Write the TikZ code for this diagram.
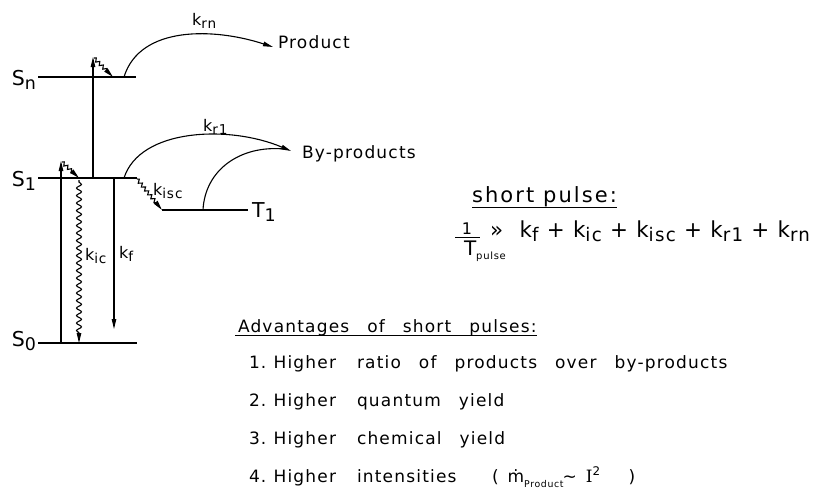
\documentclass[tikz,border=0pt]{standalone}
\usepackage{fontspec}
\setmainfont[LetterSpace=7]{DejaVu Sans}
\newfontfamily\serfam{DejaVu Serif}
\usetikzlibrary{arrows.meta,decorations.pathmorphing}
\newcommand\lo[1]{\raisebox{-0.22em}{\scalebox{0.85}{#1}}}
\newcommand\kk[1]{k\lo{#1}}
\newcommand\widesp{\spaceskip=18pt\relax}
\begin{document}
\begin{tikzpicture}[x=1pt,y=-1pt,
  every node/.style={inner sep=0pt,outer sep=0pt},
  lev/.style={line width=2.3pt},
  ln/.style={line width=1.1pt},
  tip/.style={-{Triangle[length=10pt,width=4.5pt]}},
  wig/.style={decorate,decoration={snake,amplitude=2.5pt,segment length=7.5pt,pre length=2pt,post length=10pt}},
  swig/.style={decorate,decoration={snake,amplitude=1.7pt,segment length=5pt,post length=7pt}},
  txt/.style={font=\fontsize{17}{20}\selectfont,execute at begin node=\widesp},
  big/.style={font=\fontsize{20.5}{24}\selectfont},
  klab/.style={font=\fontsize{16}{19}\selectfont}]
\useasboundingbox (0,0) rectangle (817,490);
% energy levels
\coordinate (SnA) at (38,77);  \coordinate (SnB) at (136,77);
\coordinate (S1A) at (38,178); \coordinate (S1B) at (137,178);
\coordinate (S0A) at (38,343); \coordinate (S0B) at (137,343);
\coordinate (T1A) at (162,210); \coordinate (T1B) at (248,210);
\draw[lev] (SnA) -- (SnB);
\draw[lev] (S1A) -- (S1B);
\draw[lev] (S0A) -- (S0B);
\draw[lev] (T1A) -- (T1B);
\node[big,anchor=base east] (Sn) at (36,85) {S\lo{n}};
\node[big,anchor=base east] (S1) at (36,186) {S\lo{1}};
\node[big,anchor=base east] (S0) at (36,346) {S\lo{0}};
\node[big,anchor=base west] (T1) at (252,217) {T\lo{1}};
% excitations
\coordinate (exAa) at (61,343); \coordinate (exAb) at (61,161);
\draw[ln,tip] (exAa) -- (exAb);
\coordinate (exBa) at (93,178); \coordinate (exBb) at (93,57);
\draw[ln,tip] (exBa) -- (exBb);
% fluorescence
\coordinate (fa) at (114,179); \coordinate (fb) at (114,329);
\draw[ln,tip] (fa) -- (fb);
% internal conversion
\coordinate (ica) at (79,180); \coordinate (icb) at (79,343);
\draw[ln,tip,wig] (ica) -- (icb);
% vibrational relaxations
\coordinate (rna) at (94,58); \coordinate (rnb) at (113,77);
\draw[ln,tip,swig] (rna) -- (rnb);
\coordinate (rsa) at (62,162); \coordinate (rsb) at (79,178);
\draw[ln,tip,swig] (rsa) -- (rsb);
% isc
\coordinate (isa) at (137,179); \coordinate (isb) at (162,210);
\draw[ln,tip,swig] (isa) -- (isb);
% products
\node[txt,anchor=base west] (prod) at (278,48) {Product};
\node[txt,anchor=base west] (byp) at (302,158) {By-products};
\coordinate (rnS) at (124,77); \coordinate (rnE) at (273,47);
\draw[ln,tip] (rnS) .. controls (140,25) and (215,28) .. (rnE);
\coordinate (r1S) at (124,178); \coordinate (r1E) at (291,151);
\draw[ln,tip] (r1S) .. controls (140,128) and (230,125) .. (r1E);
\coordinate (tS) at (203,210); \coordinate (tE) at (284,149);
\draw[ln] (tS) .. controls (205,170) and (240,145) .. (tE);
% rate labels
\node[klab,anchor=base west] (krn) at (192,25) {\kk{rn}};
\node[klab,anchor=base west] (kr1) at (203,131) {\kk{r1}};
\node[klab,anchor=base west] (kisc) at (153,195) {\kk{isc}};
\node[klab,anchor=base west] (kic) at (85,260) {\kk{ic}};
\node[klab,anchor=base west] (kf) at (119,258) {\kk{f}};
% short pulse
\node[anchor=base west,font=\fontsize{21}{24}\selectfont\addfontfeatures{LetterSpace=10}] (sp) at (472,202) {short pulse:};
\draw[line width=1pt] ([yshift=-5pt]sp.base west) -- ([yshift=-5pt]sp.base east);
\node[font=\fontsize{16}{18}\selectfont,anchor=base] (one) at (467,234) {1};
\coordinate (barA) at (455,237); \coordinate (barB) at (480,237);
\draw[line width=1pt] (barA) -- (barB);
\node[anchor=base west,font=\fontsize{20}{24}\selectfont] (tp) at (464,255) {T\raisebox{-0.2em}{\scalebox{0.5}{pulse}}};
\node[anchor=base west,font=\fontsize{22}{26}\selectfont] (eq) at (490,237)
  {\resizebox{320pt}{\height}{» \ \kk{f} + \kk{ic} + \kk{isc} + \kk{r1} + \kk{rn}}};
% advantages
\node[txt,anchor=base west] (adv) at (238,332) {Advantages of short pulses:};
\draw[line width=1pt] ([yshift=-3pt,xshift=-3pt]adv.base west) -- ([yshift=-3pt]adv.base east);
\node[txt,anchor=base west] (n1) at (249,368) {1.\hspace{-13pt} Higher};
\node[txt,anchor=base west] (t1) at (357,368) {ratio of products over by-products};
\node[txt,anchor=base west] (n2) at (249,406) {2.\hspace{-13pt} Higher};
\node[txt,anchor=base west] (t2) at (357,406) {quantum yield};
\node[txt,anchor=base west] (n3) at (249,444) {3.\hspace{-13pt} Higher};
\node[txt,anchor=base west] (t3) at (357,444) {chemical yield};
\node[txt,anchor=base west] (n4) at (249,482) {4.\hspace{-13pt} Higher};
\node[txt,anchor=base west] (t4) at (357,482) {intensities};
\node[txt,anchor=base west] (t4b) at (492,482) {(\hspace{-9pt} ṁ\raisebox{-0.3em}{\scalebox{0.55}{Product}}\hspace{-1pt}∼\hspace{-9pt} {\serfam I}\textsuperscript{2}\hspace{10pt} )};
\end{tikzpicture}
\end{document}
